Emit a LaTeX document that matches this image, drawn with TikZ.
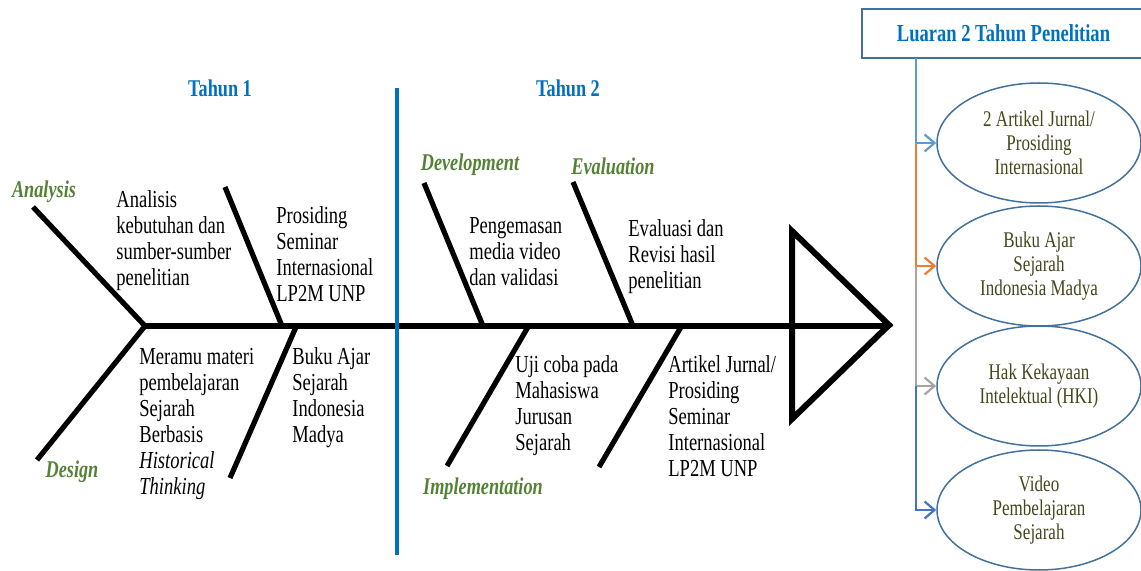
\documentclass[tikz,border=0pt]{standalone}
\usepackage{fontspec}
\setmainfont{Liberation Serif}[FakeStretch=0.76]
\usepackage{tikz}
\usetikzlibrary{arrows.meta,positioning,shapes.geometric}
\definecolor{yearblue}{RGB}{0,112,192}
\definecolor{phasegreen}{RGB}{84,130,53}
\definecolor{frameblue}{RGB}{65,113,156}
\definecolor{linkA}{RGB}{91,155,213}
\definecolor{linkB}{RGB}{237,125,49}
\definecolor{linkC}{RGB}{165,165,165}
\definecolor{linkD}{RGB}{68,114,196}
\definecolor{olivetext}{RGB}{70,70,30}

\begin{document}
\begin{tikzpicture}[x=0.5pt,y=-0.5pt,line join=miter]
\tikzstyle{bone} = [draw, line width=2.6pt]
\tikzstyle{divider} = [draw=yearblue, line width=2pt]
\tikzstyle{note} = [align=left, anchor=west, inner sep=0pt,
    font=\fontsize{12.2}{13}\selectfont]
\tikzstyle{phaselabel} = [inner sep=0pt, text=phasegreen,
    font=\fontsize{12}{13}\selectfont\bfseries\itshape]
\tikzstyle{yearlabel} = [inner sep=0pt, text=yearblue,
    font=\fontsize{12}{13}\selectfont\bfseries]
\tikzstyle{header} = [rectangle, draw=frameblue, line width=1pt,
    minimum width=141.5pt, minimum height=24.5pt, text=yearblue,
    font=\fontsize{12.2}{13}\selectfont\bfseries]
\tikzstyle{outcome} = [ellipse, draw=frameblue, line width=0.75pt,
    minimum width=102pt, minimum height=60pt, inner sep=0pt, align=center,
    text=olivetext, font=\fontsize{11.2}{12}\selectfont]
\tikzstyle{link} = [line width=1pt, -{Straight Barb[length=5pt,width=8.5pt,line width=1.1pt]}]

\useasboundingbox (0,0) rectangle (1141,571);

% spine and head
\coordinate (tail) at (145,326);
\coordinate (tip) at (893,326);
\coordinate (head) at (889,325);
\coordinate (headtop) at (792,231);
\coordinate (headbot) at (792,419);
\draw[bone, -{Triangle[length=5pt,width=7pt]}] (tail) -- (tip);
\draw[bone, line width=3pt] (headtop) -- (head) -- (headbot) -- cycle;

% bones
\coordinate (analysisend) at (33,207);
\coordinate (designend) at (37,460);
\draw[bone] (analysisend) -- (tail) -- (designend);

\coordinate (prosidingtop) at (225,187);
\coordinate (prosidingfoot) at (282,326);
\draw[bone] (prosidingtop) -- (prosidingfoot);
\coordinate (bukufoot) at (296,327);
\coordinate (bukuend) at (230,478);
\draw[bone] (bukufoot) -- (bukuend);

\coordinate (devtop) at (424,183);
\coordinate (devfoot) at (483,326);
\draw[bone] (devtop) -- (devfoot);
\coordinate (implfoot) at (528,327);
\coordinate (implend) at (447,466);
\draw[bone] (implfoot) -- (implend);

\coordinate (evaltop) at (573,182);
\coordinate (evalfoot) at (633,326);
\draw[bone] (evaltop) -- (evalfoot);
\coordinate (artikelfoot) at (681,327);
\coordinate (artikelend) at (599,467);
\draw[bone] (artikelfoot) -- (artikelend);

% year split
\coordinate (splittop) at (397,88);
\coordinate (splitbot) at (397,555);
\draw[divider] (splittop) -- (splitbot);

\node[yearlabel] (tahun1) at (220,88) {Tahun 1};
\node[yearlabel] (tahun2) at (568,88) {Tahun 2};

\node[phaselabel] (analysis) at (44,192) {Analysis};
\node[phaselabel] (design) at (72,472) {Design};
\node[phaselabel] (development) at (470,165) {Development};
\node[phaselabel] (evaluation) at (613,166) {Evaluation};
\node[phaselabel] (implementation) at (483,489) {Implementation};

\node[note] (analisis) at (116,241) {Analisis\\kebutuhan dan\\sumber-sumber\\penelitian};
\node[note] (prosiding) at (276,254) {Prosiding\\Seminar\\Internasional\\LP2M UNP};
\node[note] (meramu) at (139,424) {Meramu materi\\pembelajaran\\Sejarah\\Berbasis\\\textit{Historical}\\\textit{Thinking}};
\node[note] (bukuajar) at (292,398) {Buku Ajar\\Sejarah\\Indonesia\\Madya};
\node[note] (pengemasan) at (469,252) {Pengemasan\\media video\\dan validasi};
\node[note] (evaluasi) at (628,257) {Evaluasi dan\\Revisi hasil\\penelitian};
\node[note] (ujicoba) at (515,406) {Uji coba pada\\Mahasiswa\\Jurusan\\Sejarah};
\node[note] (artikel) at (668,416) {Artikel Jurnal/\\Prosiding\\Seminar\\Internasional\\LP2M UNP};

% outputs
\node[header] (luaran) at (1003.5,33.5) {Luaran 2 Tahun Penelitian};
\node[outcome] (out1) at (1039,143) {2 Artikel Jurnal/\\Prosiding\\Internasional};
\node[outcome] (out2) at (1039,266) {Buku Ajar\\Sejarah\\Indonesia Madya};
\node[outcome] (out3) at (1039,386) {Hak Kekayaan\\Intelektual (HKI)};
\node[outcome] (out4) at (1039,510) {Video\\Pembelajaran\\Sejarah};

\coordinate (drop) at (916,58);
\draw[link, linkA] (drop) |- (out1.west);
\draw[link, linkB] (drop |- out1.west) |- (out2.west);
\draw[link, linkC] (drop |- out2.west) |- (out3.west);
\draw[link, linkD] (drop |- out3.west) |- (out4.west);

\end{tikzpicture}
\end{document}
